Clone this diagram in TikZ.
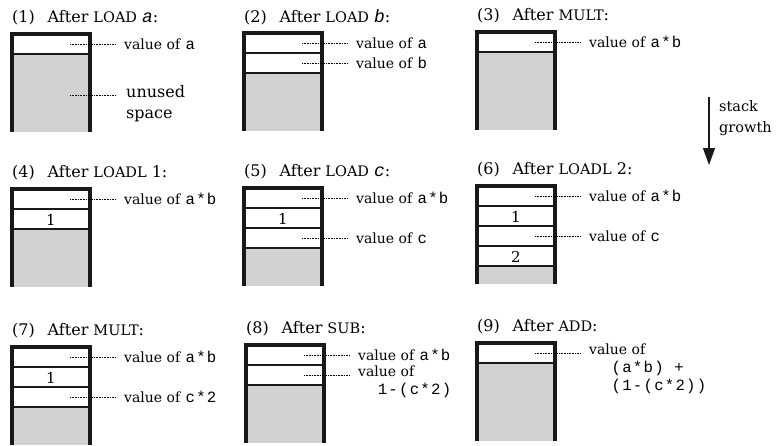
\documentclass[tikz,border=0pt]{standalone}
\usepackage{fontspec}
\setmainfont{DejaVu Serif}
\setmonofont[Scale=1.12,LetterSpace=8]{Liberation Mono}
\newfontfamily\regit[Scale=1.12]{Liberation Mono}
\usepackage{tikz}
\usetikzlibrary{calc,arrows.meta}
\newcommand{\instr}[1]{{\fontsize{14.5}{15}\selectfont #1}}
\newcommand{\opnd}[1]{{\regit\itshape #1}}

\begin{document}
\begin{tikzpicture}[x=1pt,y=-1pt,
    title/.style={anchor=west,inner sep=0pt,font=\fontsize{16}{18}\selectfont},
    lab/.style={inner sep=0pt,font=\fontsize{14}{18}\selectfont,align=left},
    leader/.style={densely dotted,line width=0.6pt},
    wall/.style={line width=3.4pt,black!90},
    cut/.style={line width=2pt,black!90},
    unused/.style={fill=gray!35}]
  \def\boxw{78}
  \def\cellh{20}
  \def\boxh{98}
  \useasboundingbox (0,0) rectangle (781,445);
  % panel / left / top / used cells / title
  \foreach \p/\x/\y/\n/\ttl in {%
      1/12/34/1/{After \instr{LOAD} \opnd{a}:},
      2/244/33/2/{After \instr{LOAD} \opnd{b}:},
      3/477/32/1/{After \instr{MULT}:},
      4/12/189/2/{After \instr{LOADL} 1:},
      5/244/188/3/{After \instr{LOAD} \opnd{c}:},
      6/477/186/4/{After \instr{LOADL} 2:},
      7/12/347/3/{After \instr{MULT}:},
      8/246/345/2/{After \instr{SUB}:},
      9/477/343/1/{After \instr{ADD}:}}{
    \coordinate (b\p) at (\x,\y);
    \fill[unused] (\x,\y+\n*\cellh) rectangle (\x+\boxw,\y+\boxh);
    \foreach \k in {1,...,\n}
      \draw[cut] (\x,\y+\k*\cellh) -- (\x+\boxw,\y+\k*\cellh);
    \draw[wall] (\x,\y+\boxh) -- (\x,\y) -- (\x+\boxw,\y) -- (\x+\boxw,\y+\boxh);
    \node[title] (t\p) at (\x,\y-16) {(\p)\hspace{0.8em}\ttl};
  }
  % literals kept in the cells
  \foreach \p/\k/\v in {4/2/1, 5/2/1, 6/2/1, 6/4/2, 7/2/1}
    \node[lab,font=\fontsize{15}{18}\selectfont] (v\p-\k) at ($(b\p)+(\boxw/2,{(\k-0.5)*\cellh+1})$) {\v};
  % panel / cell / anchor / lift / text
  \foreach \p/\k/\a/\dy/\txt in {%
      1/1/west/0/{value of \texttt{a}},
      2/1/west/0/{value of \texttt{a}},
      2/2/west/0/{value of \texttt{b}},
      3/1/west/0/{value of \texttt{a*b}},
      4/1/west/0/{value of \texttt{a*b}},
      5/1/west/0/{value of \texttt{a*b}},
      5/3/west/0/{value of \texttt{c}},
      6/1/west/0/{value of \texttt{a*b}},
      6/3/west/0/{value of \texttt{c}},
      7/1/west/0/{value of \texttt{a*b}},
      7/3/west/0/{value of \texttt{c*2}},
      8/1/west/0/{value of \texttt{a*b}},
      8/2/north west/9/{value of\\\hspace*{1.4em}\texttt{1-(c*2)}},
      9/1/north west/9/{value of\\\hspace*{1.6em}\texttt{(a*b) +}\\\hspace*{1.6em}\texttt{(1-(c*2))}}}{
    \coordinate (s\p-\k) at ($(b\p)+(\boxw-20,{(\k-0.5)*\cellh})$);
    \coordinate (e\p-\k) at ($(b\p)+(\boxw+26,{(\k-0.5)*\cellh})$);
    \draw[leader] (s\p-\k) -- (e\p-\k);
    \node[lab,anchor=\a] (l\p-\k) at ([xshift=8pt,yshift=\dy pt]e\p-\k) {\txt};
  }
  % free space below the stack top
  \coordinate (s1-free) at ($(b1)+(\boxw-20,61)$);
  \coordinate (e1-free) at ($(b1)+(\boxw+26,61)$);
  \draw[leader] (s1-free) -- (e1-free);
  \node[lab,anchor=north west,font=\fontsize{16}{21}\selectfont] (l1-free)
    at ([xshift=10pt,yshift=10pt]e1-free) {unused\\space};
  % direction of growth
  \coordinate (g0) at (709,97);
  \coordinate (g1) at (709,165);
  \draw[line width=1.4pt,black!90,-{Triangle[length=17pt,width=12pt]}] (g0) -- (g1);
  \node[lab,anchor=north west,font=\fontsize{14.5}{21}\selectfont] (grow) at (719,100) {stack\\growth};
\end{tikzpicture}
\end{document}
